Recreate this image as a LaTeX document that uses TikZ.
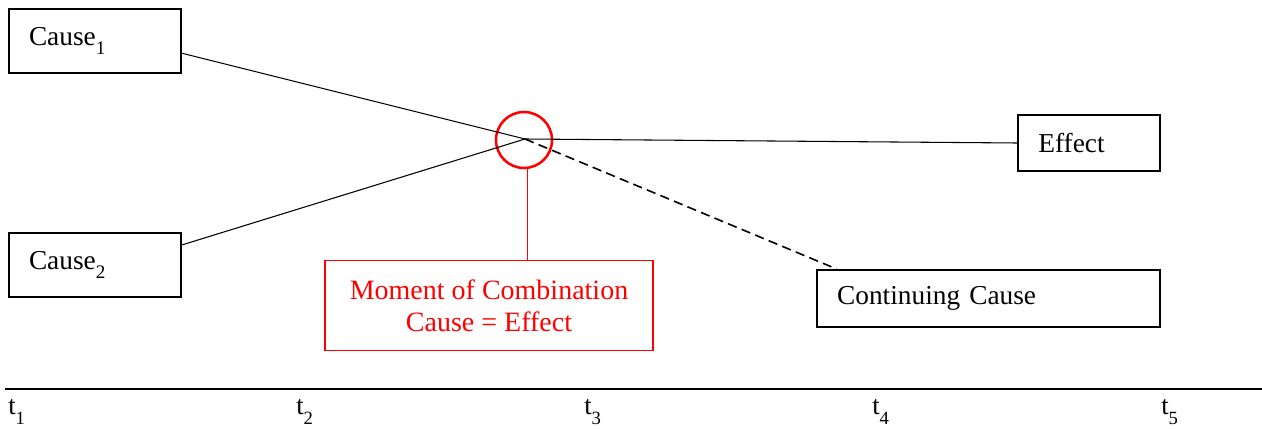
\documentclass[tikz,border=0pt]{standalone}
\usepackage{fontspec}
\setmainfont{Liberation Serif}
\newcommand{\lowsub}[1]{\raisebox{-0.45ex}{\textsubscript{#1}}}
\begin{document}
\begin{tikzpicture}[
    x=0.75pt, y=-0.75pt,
    box/.style={rectangle, draw, line width=1.3pt, inner xsep=15pt, align=left, font=\fontsize{20.5}{24}\selectfont},
    redbox/.style={rectangle, draw=red, text=red, line width=0.9pt, align=center, minimum width=246pt, minimum height=67pt, font=\fontsize{21}{24}\selectfont},
    link/.style={line width=0.8pt},
    tick/.style={font=\fontsize{20}{22}\selectfont}
]
\useasboundingbox (0,0) rectangle (1262,428);

% Causes, effect and continuing cause
\node[box, text width=99pt, minimum height=48pt] (cause1) at (95,41) {Cause\lowsub{1}};
\node[box, text width=99pt, minimum height=48pt] (cause2) at (95,265) {Cause\lowsub{2}};
\node[box, text width=76pt, minimum height=42pt] (effect) at (1089,143) {Effect};
\node[box, text width=227pt, minimum height=43pt] (continuing) at (988.5,298.5) {Continuing Cause};

% Moment of combination
\coordinate (join) at (525,139);
\node[circle, draw=red, line width=1.9pt, minimum size=42pt] (moment) at (524,140) {};
\node[redbox] (combination) at (489,305.5) {Moment of Combination\\Cause = Effect};

% Links
\draw[link] (cause1.-8.6) -- (join);
\draw[link] (cause2.13.7) -- (join);
\draw[link] (join) -- (effect.west);
\draw[link, line width=1.2pt, dash pattern=on 7pt off 4pt] (join) -- (continuing.169.5);
\draw[red, line width=0.8pt] ([xshift=2.5pt]moment.south) -- ([xshift=2.5pt]moment.south |- combination.north);

% Time axis
\coordinate (axisL) at (5,389);
\coordinate (axisR) at (1262,389);
\draw[line width=1.5pt] (axisL) -- (axisR);
\foreach \i/\x in {1/17, 2/305, 3/593, 4/881, 5/1170}
    \node[tick] (t\i) at (\x,412) {t\lowsub{\i}};

\end{tikzpicture}
\end{document}
